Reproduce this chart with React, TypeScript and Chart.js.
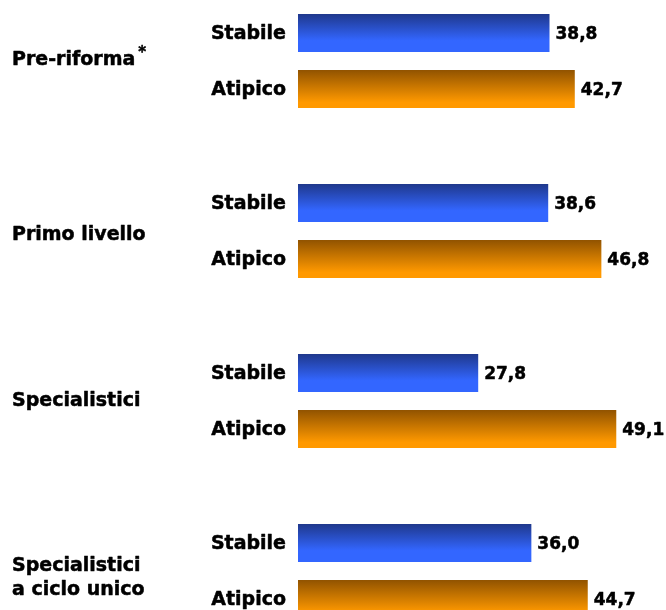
import React, { useEffect, useRef } from "react";
import { Chart, registerables } from "chart.js";

Chart.register(...registerables);

const categories: string[][] = [
  ["Pre-riforma*"],
  ["Primo livello"],
  ["Specialistici"],
  ["Specialistici", "a ciclo unico"],
];
const seriesNames = ["Stabile", "Atipico"];
const stabile = [38.8, 38.6, 27.8, 36.0];
const atipico = [42.7, 46.8, 49.1, 44.7];
const xMax = 56;

// layout: small vertical nudges of the group captions (px)
const captionNudge = [-1, 4, 0, 7];

const FONT = '"DejaVu Sans", Verdana, sans-serif';
const blueStops: [number, string][] = [
  [0, "#1f388c"],
  [0.7, "#3366ff"],
  [1, "#3366ff"],
];
const orangeStops: [number, string][] = [
  [0, "#915300"],
  [0.85, "#ff9900"],
  [1, "#ff9900"],
];

const fmt = (v: number) => v.toFixed(1).replace(".", ",");

const gradientPlugin = {
  id: "barGradient",
  beforeDatasetsDraw(chart: any) {
    const ctx = chart.ctx;
    chart.data.datasets.forEach((ds: any, di: number) => {
      const meta = chart.getDatasetMeta(di);
      meta.data.forEach((el: any) => {
        const top = el.y - el.height / 2;
        const g = ctx.createLinearGradient(0, top, 0, top + el.height);
        ds.gradientStops.forEach(([o, c]: [number, string]) => g.addColorStop(o, c));
        el.options = { ...el.options, backgroundColor: g };
      });
    });
  },
};

// heavy, slightly tall text
const drawText = (ctx: any, text: string, x: number, y: number, size: number, align: string) => {
  ctx.save();
  ctx.font = `bold ${size}px ${FONT}`;
  ctx.textAlign = align;
  ctx.textBaseline = "middle";
  ctx.translate(x, y);
  ctx.scale(1, 1.05);
  ctx.fillStyle = "#000";
  ctx.strokeStyle = "#000";
  ctx.lineWidth = 0.5;
  ctx.lineJoin = "round";
  ctx.fillText(text, 0, 0);
  ctx.strokeText(text, 0, 0);
  const m = ctx.measureText(text);
  ctx.restore();
  return m;
};

const labelPlugin = {
  id: "textLabels",
  afterDatasetsDraw(chart: any) {
    const ctx = chart.ctx;
    chart.data.datasets.forEach((ds: any, di: number) => {
      const meta = chart.getDatasetMeta(di);
      meta.data.forEach((el: any, i: number) => {
        drawText(ctx, ds.label, el.base - 12, el.y + 1, 19, "right");
        drawText(ctx, fmt(ds.data[i]), el.x + 6, el.y + 1, 17, "left");
      });
    });
    const yScale = chart.scales.y;
    const lh = 24;
    categories.forEach((lines, i) => {
      const cy = yScale.getPixelForValue(i) + (captionNudge[i] || 0);
      lines.forEach((line, k) => {
        const ly = cy + (k - (lines.length - 1) / 2) * lh;
        if (line.endsWith("*")) {
          const main = line.slice(0, -1);
          const m = drawText(ctx, main, 12, ly, 19, "left");
          ctx.save();
          ctx.font = `bold 15px ${FONT}`;
          ctx.textBaseline = "middle";
          const a = ctx.measureText("*");
          ctx.restore();
          const capTop = ly - m.actualBoundingBoxAscent * 1.05;
          const ay = capTop - 5 + a.actualBoundingBoxAscent * 1.05;
          drawText(ctx, "*", 12 + m.width + 3, ay, 15, "left");
        } else {
          drawText(ctx, line, 12, ly, 19, "left");
        }
      });
    });
  },
};

export default function App() {
  const ref = useRef<HTMLCanvasElement>(null);
  useEffect(() => {
    if (!ref.current) return;
    const chart = new Chart(ref.current, {
      type: "bar",
      data: {
        labels: categories.map((l) => l.join(" ")),
        datasets: [
          {
            label: seriesNames[0],
            data: stabile,
            backgroundColor: "#3366ff",
            gradientStops: blueStops,
          } as any,
          {
            label: seriesNames[1],
            data: atipico,
            backgroundColor: "#ff9900",
            gradientStops: orangeStops,
          } as any,
        ],
      },
      options: {
        indexAxis: "y",
        animation: false,
        responsive: true,
        maintainAspectRatio: false,
        layout: { padding: { left: 298, right: 5, top: 0, bottom: 0 } },
        datasets: {
          bar: { categoryPercentage: 112 / 170, barPercentage: 38 / 56 },
        },
        scales: {
          x: { display: false, min: 0, max: xMax },
          y: { display: false },
        },
        plugins: {
          legend: { display: false },
          tooltip: { enabled: false },
        },
      },
      plugins: [gradientPlugin, labelPlugin],
    });
    return () => chart.destroy();
  }, []);
  return (
    <div
      style={{
        position: "absolute",
        left: 0,
        top: 0,
        width: 666,
        height: 610,
        overflow: "hidden",
        background: "#fff",
      }}
    >
      <div style={{ position: "absolute", left: 0, top: -24, width: 666, height: 680 }}>
        <canvas ref={ref} />
      </div>
    </div>
  );
}
